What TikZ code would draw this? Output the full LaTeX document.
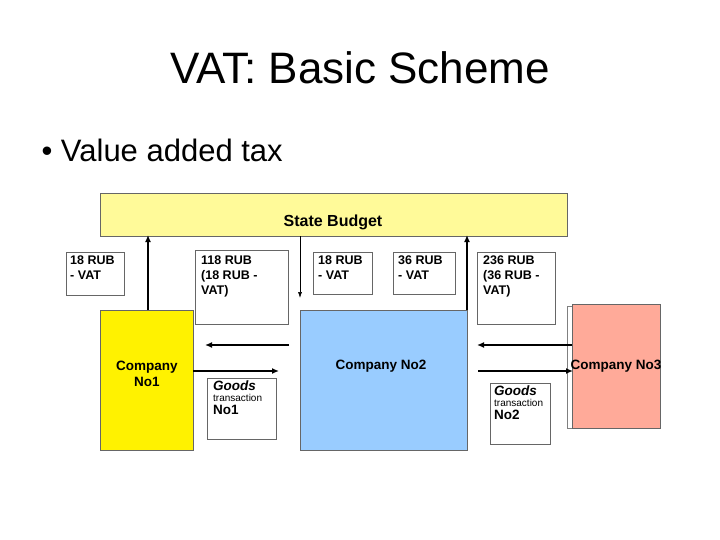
\documentclass[tikz,border=0pt]{standalone}
\usepackage{fontspec}
\setmainfont{Liberation Sans}
\usetikzlibrary{arrows.meta}
\begin{document}
\begin{tikzpicture}[x=1pt,y=-1pt,
  wbox/.style={draw=black!60,fill=white,line width=0.5pt,anchor=north west,inner sep=0},
  lbl/.style={anchor=north west,align=left,font=\bfseries\fontsize{12.5}{15}\selectfont,inner sep=0},
  arr/.style={-{Latex[length=7pt,width=6pt]},line width=1.3pt},
  thin/.style={-{Latex[length=6pt,width=4pt]},line width=0.6pt}]
\useasboundingbox (0,0) rectangle (720,540);
\node (title) at (360,68) {\fontsize{44}{50}\selectfont VAT: Basic Scheme};
\node[anchor=west] (bullet) at (38,150) {\fontsize{31}{36}\selectfont • Value added tax};
\node[draw=black!60,fill=yellow!40,minimum width=467,minimum height=43,anchor=north west,inner sep=0] (sb) at (100,193) {};
\node[font=\bfseries\fontsize{16}{18}\selectfont] (sbl) at (333,222) {State Budget};
% value boxes
\node[wbox,minimum width=58,minimum height=43] (v1) at (66,252) {};
\node[lbl] (v1t) at (70,256) {18 RUB\\- VAT};
\node[wbox,minimum width=93,minimum height=74] (v2) at (195,250) {};
\node[lbl] (v2t) at (201,256) {118 RUB\\(18 RUB -\\VAT)};
\node[wbox,minimum width=59,minimum height=42] (v3) at (313,252) {};
\node[lbl] (v3t) at (318,256) {18 RUB\\- VAT};
\node[wbox,minimum width=62,minimum height=42] (v4) at (393,252) {};
\node[lbl] (v4t) at (398,256) {36 RUB\\- VAT};
\node[wbox,minimum width=78,minimum height=72] (v5) at (477,252) {};
\node[lbl] (v5t) at (483,256) {236 RUB\\(36 RUB -\\VAT)};
% companies
\node[draw=black!60,fill=yellow,minimum width=93,minimum height=140,anchor=north west,inner sep=0] (c1) at (100,310) {};
\node[align=center,font=\bfseries\fontsize{13.5}{16}\selectfont] (c1t) at (147,374) {Company\\No1};
\node[draw=black!60,fill={rgb,255:red,153;green,204;blue,255},minimum width=167,minimum height=140,anchor=north west,inner sep=0] (c2) at (300,310) {};
\node[font=\bfseries\fontsize{13.5}{16}\selectfont] (c2t) at (381,366) {Company No2};
\node[draw=black!50,fill=white,minimum width=90,minimum height=122,anchor=north west,inner sep=0] (c3b) at (567,306) {};
\node[draw=black!60,fill={rgb,255:red,255;green,170;blue,153},minimum width=88,minimum height=124,anchor=north west,inner sep=0] (c3) at (572,304) {};
\node[font=\bfseries\fontsize{13.5}{16}\selectfont] (c3t) at (616,366) {Company No3};
% goods boxes
\node[wbox,minimum width=69,minimum height=61] (g1) at (207,378) {};
\node[anchor=north west,align=left,inner sep=0] (g1t) at (213,381) {{\bfseries\itshape\fontsize{13.5}{15}\selectfont Goods}\\[-1pt]{\fontsize{10}{12}\selectfont transaction}\\[1pt]{\bfseries\fontsize{13.5}{15}\selectfont No1}};
\node[wbox,minimum width=60,minimum height=61] (g2) at (490,383) {};
\node[anchor=north west,align=left,inner sep=0] (g2t) at (494,386) {{\bfseries\itshape\fontsize{13.5}{15}\selectfont Goods}\\[-1pt]{\fontsize{10}{12}\selectfont transaction}\\[1pt]{\bfseries\fontsize{13.5}{15}\selectfont No2}};
% arrows
\coordinate (a1s) at (148,310); \coordinate (a1e) at (148,235);
\draw[arr] (a1s) -- (a1e);
\coordinate (a2s) at (300,236); \coordinate (a2e) at (300,298);
\draw[thin] (a2s) -- (a2e);
\coordinate (a3s) at (467,310); \coordinate (a3e) at (467,235);
\draw[arr] (a3s) -- (a3e);
\coordinate (b1s) at (289,345); \coordinate (b1e) at (205,345);
\draw[arr] (b1s) -- (b1e);
\coordinate (b2s) at (193,371); \coordinate (b2e) at (279,371);
\draw[arr] (b2s) -- (b2e);
\coordinate (b3s) at (572,345); \coordinate (b3e) at (477,345);
\draw[arr] (b3s) -- (b3e);
\coordinate (b4s) at (478,371); \coordinate (b4e) at (573,371);
\draw[arr] (b4s) -- (b4e);
\end{tikzpicture}
\end{document}
